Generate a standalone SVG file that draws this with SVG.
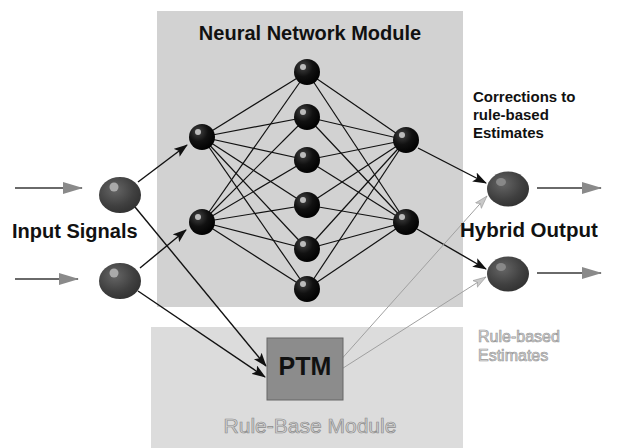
<svg xmlns="http://www.w3.org/2000/svg" width="619" height="448" viewBox="0 0 619 448">
<style>
.t{font-family:"Liberation Sans",Arial,sans-serif;font-weight:bold;fill:#111}
.g{font-family:"Liberation Sans",Arial,sans-serif;fill:#d4d4d4;stroke:#8c8c8c;stroke-width:0.7}
.w{stroke:#111;stroke-width:1.2;fill:none}
.blk{stroke:#111;stroke-width:1.4;fill:none}
.lt{stroke:#a0a0a0;stroke-width:1;fill:none}
.io{stroke:#6a6a6a;stroke-width:2.2;fill:none}
</style>
<defs>
<radialGradient id="hn" cx="0.35" cy="0.3" r="0.75">
<stop offset="0" stop-color="#444"/><stop offset="0.5" stop-color="#111"/><stop offset="1" stop-color="#000"/>
</radialGradient>
<radialGradient id="on" cx="0.38" cy="0.35" r="0.75">
<stop offset="0" stop-color="#666"/><stop offset="0.6" stop-color="#404040"/><stop offset="1" stop-color="#2e2e2e"/>
</radialGradient>
<marker id="ab" markerUnits="userSpaceOnUse" markerWidth="14" markerHeight="10" refX="13" refY="5" orient="auto">
<path d="M0,0 L14,5 L0,10 L3,5 Z" fill="#111"/>
</marker>
<marker id="ag" markerUnits="userSpaceOnUse" markerWidth="20" markerHeight="12" refX="19" refY="6" orient="auto">
<path d="M0,0 L20,6 L0,12 Z" fill="#8a8a8a"/>
</marker>
<marker id="al" markerUnits="userSpaceOnUse" markerWidth="14" markerHeight="10" refX="13" refY="5" orient="auto">
<path d="M0,1 L13,5 L0,9 L3,5 Z" fill="#c8c8c8" stroke="#999" stroke-width="0.6"/>
</marker>
</defs>
<rect width="619" height="448" fill="#fff"/>
<g id="nn-module">
<rect x="157" y="11" width="306" height="296" fill="#d2d2d2"/>
<text class="t" x="310" y="40" font-size="20" text-anchor="middle">Neural Network Module</text>
</g>
<g id="rule-base-module">
<rect x="151" y="327" width="312" height="121" fill="#dcdcdc"/>
<text class="g" x="310" y="433" font-size="21" text-anchor="middle">Rule-Base Module</text>
</g>
<g id="connectors">
<g class="w">
<line x1="202" y1="137" x2="307" y2="72"/><line x1="202" y1="137" x2="307" y2="117"/><line x1="202" y1="137" x2="307" y2="160"/>
<line x1="202" y1="137" x2="307" y2="205"/><line x1="202" y1="137" x2="307" y2="249"/><line x1="202" y1="137" x2="307" y2="289"/>
<line x1="202" y1="222" x2="307" y2="72"/><line x1="202" y1="222" x2="307" y2="117"/><line x1="202" y1="222" x2="307" y2="160"/>
<line x1="202" y1="222" x2="307" y2="205"/><line x1="202" y1="222" x2="307" y2="249"/><line x1="202" y1="222" x2="307" y2="289"/>
<line x1="406" y1="140" x2="307" y2="72"/><line x1="406" y1="140" x2="307" y2="117"/><line x1="406" y1="140" x2="307" y2="160"/>
<line x1="406" y1="140" x2="307" y2="205"/><line x1="406" y1="140" x2="307" y2="249"/><line x1="406" y1="140" x2="307" y2="289"/>
<line x1="406" y1="222" x2="307" y2="72"/><line x1="406" y1="222" x2="307" y2="117"/><line x1="406" y1="222" x2="307" y2="160"/>
<line x1="406" y1="222" x2="307" y2="205"/><line x1="406" y1="222" x2="307" y2="249"/><line x1="406" y1="222" x2="307" y2="289"/>
</g>
<line class="blk" x1="138" y1="182" x2="187" y2="145" marker-end="url(#ab)"/>
<line class="blk" x1="140" y1="268" x2="186" y2="230" marker-end="url(#ab)"/>
<line class="blk" x1="135" y1="207" x2="266" y2="366" marker-end="url(#ab)"/>
<line class="blk" x1="138" y1="291" x2="265" y2="377" marker-end="url(#ab)"/>
<line class="blk" x1="418" y1="148" x2="486" y2="183" marker-end="url(#ab)"/>
<line class="blk" x1="417" y1="229" x2="486" y2="269" marker-end="url(#ab)"/>
<line class="lt" x1="338" y1="363" x2="487" y2="196" marker-end="url(#al)"/>
<line class="lt" x1="340" y1="370" x2="486" y2="277" marker-end="url(#al)"/>
<line class="io" x1="15" y1="188" x2="82" y2="188" marker-end="url(#ag)"/>
<line class="io" x1="15" y1="279" x2="78" y2="279" marker-end="url(#ag)"/>
<line class="io" x1="537" y1="188" x2="601" y2="188" marker-end="url(#ag)"/>
<line class="io" x1="537" y1="273" x2="601" y2="273" marker-end="url(#ag)"/>
</g>
<g id="in1"><ellipse cx="120" cy="195" rx="21" ry="18" fill="url(#on)"/><circle cx="114" cy="187" r="4.5" fill="#aaa"/></g>
<g id="in2"><ellipse cx="120" cy="281" rx="21" ry="18" fill="url(#on)"/><circle cx="114" cy="273" r="4.5" fill="#aaa"/></g>
<g id="h1a"><circle cx="202" cy="137" r="13" fill="url(#hn)"/><circle cx="198" cy="132" r="3" fill="#bbb"/></g>
<g id="h1b"><circle cx="202" cy="222" r="13" fill="url(#hn)"/><circle cx="198" cy="217" r="3" fill="#bbb"/></g>
<g id="m1"><circle cx="307" cy="72" r="13" fill="url(#hn)"/><circle cx="303" cy="67" r="3" fill="#bbb"/></g>
<g id="m2"><circle cx="307" cy="117" r="13" fill="url(#hn)"/><circle cx="303" cy="112" r="3" fill="#bbb"/></g>
<g id="m3"><circle cx="307" cy="160" r="13" fill="url(#hn)"/><circle cx="303" cy="155" r="3" fill="#bbb"/></g>
<g id="m4"><circle cx="307" cy="205" r="13" fill="url(#hn)"/><circle cx="303" cy="200" r="3" fill="#bbb"/></g>
<g id="m5"><circle cx="307" cy="249" r="13" fill="url(#hn)"/><circle cx="303" cy="244" r="3" fill="#bbb"/></g>
<g id="m6"><circle cx="307" cy="289" r="13" fill="url(#hn)"/><circle cx="303" cy="284" r="3" fill="#bbb"/></g>
<g id="h2a"><circle cx="406" cy="140" r="13" fill="url(#hn)"/><circle cx="402" cy="135" r="3" fill="#bbb"/></g>
<g id="h2b"><circle cx="406" cy="222" r="13" fill="url(#hn)"/><circle cx="402" cy="217" r="3" fill="#bbb"/></g>
<g id="out1"><ellipse cx="508" cy="189" rx="21" ry="17.5" fill="url(#on)"/><ellipse cx="501" cy="182" rx="5" ry="4" fill="#888"/></g>
<g id="out2"><ellipse cx="508" cy="274" rx="21" ry="17.5" fill="url(#on)"/><ellipse cx="501" cy="267" rx="5" ry="4" fill="#888"/></g>
<g id="ptm">
<rect x="267" y="338" width="76" height="62" fill="#8c8c8c" stroke="#666" stroke-width="1"/>
<text class="t" x="305" y="375" font-size="25" text-anchor="middle">PTM</text>
</g>
<g id="labels">
<text class="t" x="12" y="238" font-size="20">Input Signals</text>
<text class="t" x="460" y="237" font-size="20.5">Hybrid Output</text>
<text class="t" font-size="15"><tspan x="473" y="102">Corrections to</tspan><tspan x="473" y="120">rule-based</tspan><tspan x="473" y="138">Estimates</tspan></text>
<text class="g" font-size="16" style="fill:#ddd;stroke:#999"><tspan x="478" y="342">Rule-based</tspan><tspan x="478" y="361">Estimates</tspan></text>
</g>
</svg>
